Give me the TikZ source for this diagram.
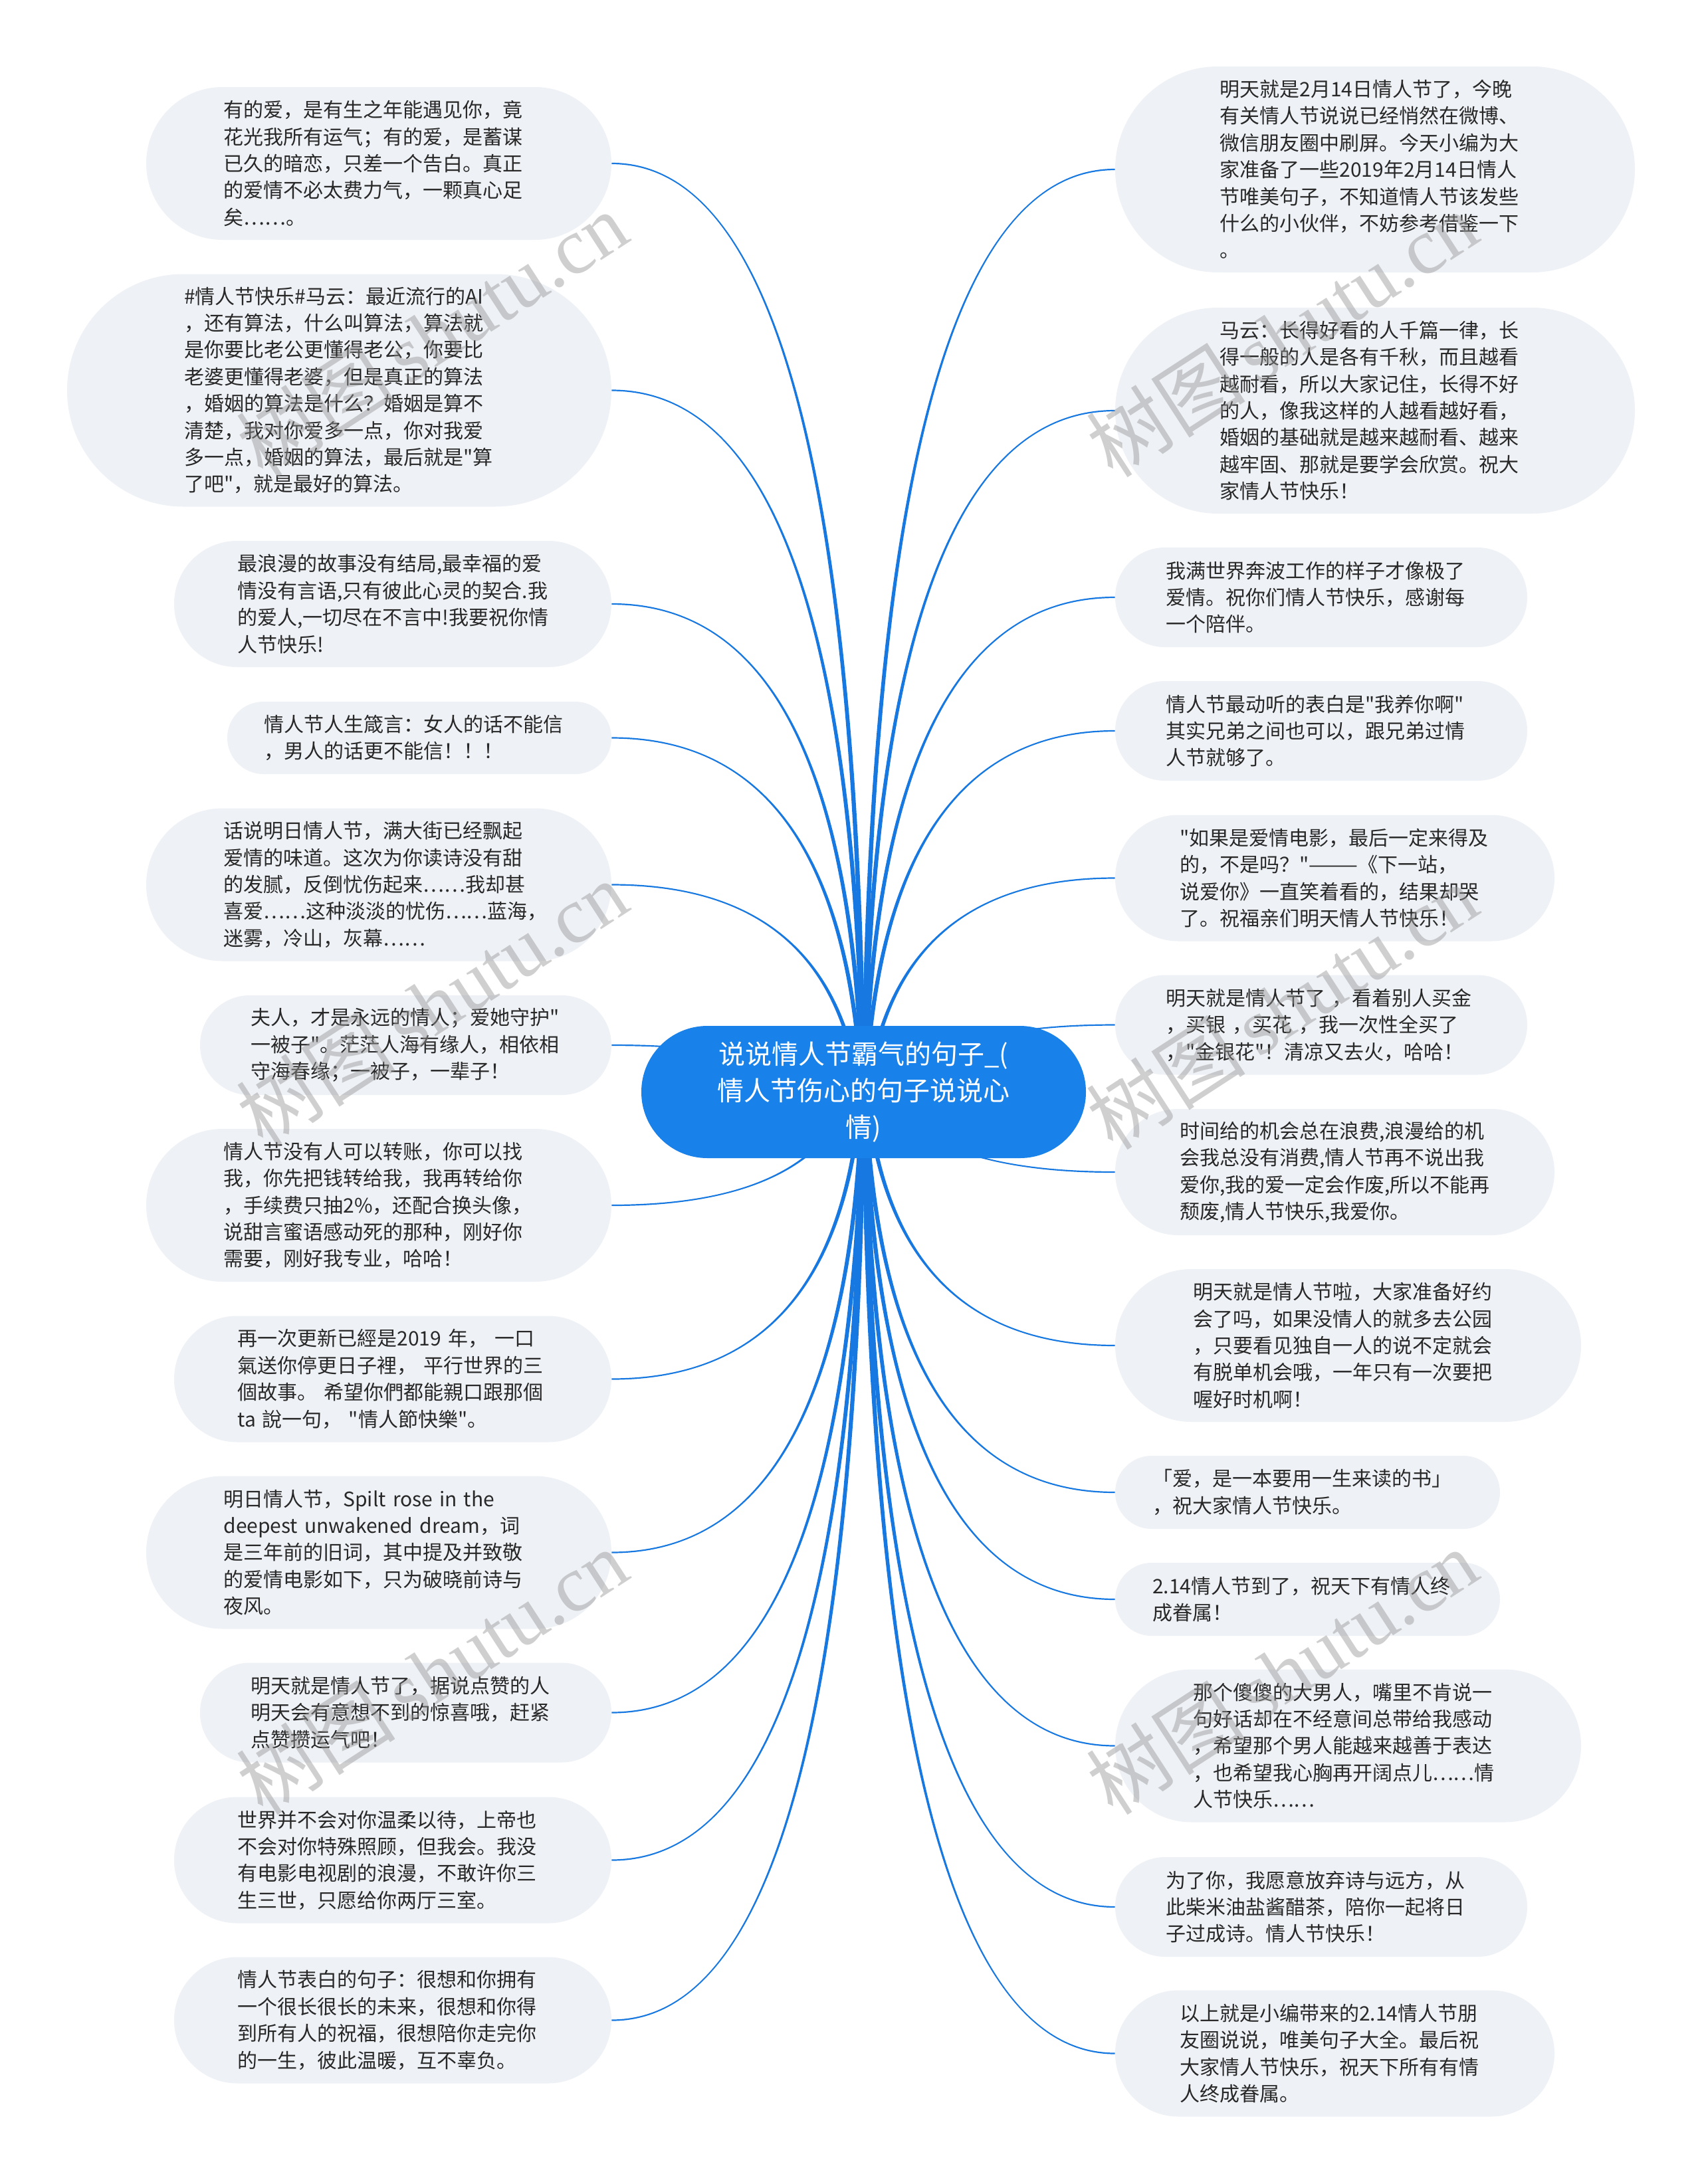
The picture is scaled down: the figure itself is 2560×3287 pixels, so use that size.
\documentclass[tikz,border=0pt]{standalone}
\usepackage{fontspec}
\setmainfont{Noto Sans CJK SC}[Ligatures=TeXOff]
\newfontfamily\wmlatin{Liberation Serif}
\usetikzlibrary{calc,backgrounds}
\definecolor{rootblue}{RGB}{24,129,234}
\definecolor{linkblue}{RGB}{22,120,224}
\definecolor{leaffill}{RGB}{238,241,245}
\definecolor{txt}{RGB}{40,40,40}
\definecolor{wmgray}{RGB}{150,150,150}
\def\wa{3.5}
\def\wb{1.1}
% tapered connector: #1 root anchor, #2 leaf anchor, #3 sign x, #4 sign y
\newcommand{\mmlink}[4]{%
  \path (#1) coordinate (q0) (#2) coordinate (q3);
  \path ($(q0)!0.6667!(q0 |- q3)$) coordinate (q1)
        ($(q3)!0.6667!(q0 |- q3)$) coordinate (q2);
  \fill[linkblue] ($(q0)+({-(#3)*\wa},0)$)
     .. controls ($(q1)+({-(#3)*\wa},0)$) and ($(q2)+(0,{(#4)*\wb})$) .. ($(q3)+(0,{(#4)*\wb})$)
     -- ($(q3)+(0,{-(#4)*\wb})$)
     .. controls ($(q2)+(0,{-(#4)*\wb})$) and ($(q1)+({(#3)*\wa},0)$) .. ($(q0)+({(#3)*\wa},0)$)
     -- cycle;}
\begin{document}
\begin{tikzpicture}[x=0.5pt,y=-0.5pt,
  leaf/.style={rectangle, fill=leaffill, text=txt, align=left, text width=233.5pt, inner sep=0pt,
    font=\fontsize{15pt}{20.2pt}\selectfont},
  pill/.style 2 args={minimum width=#1*0.5pt, minimum height=#2*0.5pt, rounded corners=#2*0.25pt-0.05pt},
  rootbox/.style={rectangle, fill=rootblue, text=white, align=center, inner sep=0pt,
    font=\fontsize{20pt}{27.3pt}\selectfont},
  wm/.style={rotate=33, text=wmgray, opacity=0.45, inner sep=0pt,
    font=\fontsize{60pt}{60pt}\selectfont}]
\useasboundingbox (0,0) rectangle (2560,3287);

% root
\node[rootbox, pill={669}{199}] (root) at (1299.5,1643.5)
  {说说情人节霸气的句子\_(\\情人节伤心的句子说说心\\情)};

% left leaves
\node[leaf, pill={700}{230}] (L1) at (570,246)
  {有的爱，是有生之年能遇见你，竟\\花光我所有运气；有的爱，是蓄谋\\已久的暗恋，只差一个告白。真正\\的爱情不必太费力气，一颗真心足\\矣……。};
\node[leaf, pill={819}{350}] (L2) at (510.5,587.5)
  {\#情人节快乐\#马云：最近流行的AI\\，还有算法，什么叫算法，算法就\\是你要比老公更懂得老公，你要比\\老婆更懂得老婆，但是真正的算法\\，婚姻的算法是什么？婚姻是算不\\清楚，我对你爱多一点，你对我爱\\多一点，婚姻的算法，最后就是"算\\了吧"，就是最好的算法。};
\node[leaf, pill={658}{190}] (L3) at (591,909)
  {最浪漫的故事没有结局,最幸福的爱\\情没有言语,只有彼此心灵的契合.我\\的爱人,一切尽在不言中!我要祝你情\\人节快乐!};
\node[leaf, pill={578}{109}] (L4) at (631,1110.5)
  {情人节人生箴言：女人的话不能信\\，男人的话更不能信！！！};
\node[leaf, pill={700}{230}] (L5) at (570,1331.5)
  {话说明日情人节，满大街已经飘起\\爱情的味道。这次为你读诗没有甜\\的发腻，反倒忧伤起来……我却甚\\喜爱……这种淡淡的忧伤……蓝海，\\迷雾，冷山，灰幕……};
\node[leaf, pill={619}{150}] (L6) at (610.5,1573)
  {夫人，才是永远的情人；爱她守护"\\一被子"。茫茫人海有缘人，相依相\\守海春缘；一被子，一辈子！};
\node[leaf, pill={700}{230}] (L7) at (570,1814)
  {情人节没有人可以转账，你可以找\\我，你先把钱转给我，我再转给你\\，手续费只抽2\%，还配合换头像，\\说甜言蜜语感动死的那种，刚好你\\需要，刚好我专业，哈哈！};
\node[leaf, pill={658}{190}] (L8) at (591,2075.5)
  {再一次更新已經是2019 年， 一口\\氣送你停更日子裡， 平行世界的三\\個故事。 希望你們都能親口跟那個\\ta 說一句， "情人節快樂"。};
\node[leaf, pill={700}{230}] (L9) at (570,2336.5)
  {明日情人节，Spilt rose in the\\deepest unwakened dream，词\\是三年前的旧词，其中提及并致敬\\的爱情电影如下，只为破晓前诗与\\夜风。};
\node[leaf, pill={619}{150}] (L10) at (610.5,2577.5)
  {明天就是情人节了，据说点赞的人\\明天会有意想不到的惊喜哦，赶紧\\点赞攒运气吧！};
\node[leaf, pill={658}{190}] (L11) at (591,2799.5)
  {世界并不会对你温柔以待，上帝也\\不会对你特殊照顾，但我会。我没\\有电影电视剧的浪漫，不敢许你三\\生三世，只愿给你两厅三室。};
\node[leaf, pill={658}{190}] (L12) at (591,3040.5)
  {情人节表白的句子：很想和你拥有\\一个很长很长的未来，很想和你得\\到所有人的祝福，很想陪你走完你\\的一生，彼此温暖，互不辜负。};

% right leaves
\node[leaf, pill={782}{310}] (R1) at (2069,255)
  {明天就是2月14日情人节了，今晚\\有关情人节说说已经悄然在微博、\\微信朋友圈中刷屏。今天小编为大\\家准备了一些2019年2月14日情人\\节唯美句子，不知道情人节该发些\\什么的小伙伴，不妨参考借鉴一下\\。};
\node[leaf, pill={782}{310}] (R2) at (2069,618)
  {马云：长得好看的人千篇一律，长\\得一般的人是各有千秋，而且越看\\越耐看，所以大家记住，长得不好\\的人，像我这样的人越看越好看，\\婚姻的基础就是越来越耐看、越来\\越牢固、那就是要学会欣赏。祝大\\家情人节快乐！};
\node[leaf, pill={620}{150}] (R3) at (1988,899)
  {我满世界奔波工作的样子才像极了\\爱情。祝你们情人节快乐，感谢每\\一个陪伴。};
\node[leaf, pill={620}{150}] (R4) at (1988,1100)
  {情人节最动听的表白是"我养你啊"\\其实兄弟之间也可以，跟兄弟过情\\人节就够了。};
\node[leaf, pill={661}{190}] (R5) at (2008.5,1321.5)
  {"如果是爱情电影，最后一定来得及\\的，不是吗？"———《下一站，\\说爱你》一直笑着看的，结果却哭\\了。祝福亲们明天情人节快乐！};
\node[leaf, pill={620}{150}] (R6) at (1988,1542.5)
  {明天就是情人节了 ，看着别人买金\\ ，买银 ，买花 ，我一次性全买了\\ ，"金银花"！清凉又去火，哈哈！};
\node[leaf, pill={661}{190}] (R7) at (2008.5,1764)
  {时间给的机会总在浪费,浪漫给的机\\会我总没有消费,情人节再不说出我\\爱你,我的爱一定会作废,所以不能再\\颓废,情人节快乐,我爱你。};
\node[leaf, pill={701}{230}] (R8) at (2028.5,2025)
  {明天就是情人节啦，大家准备好约\\会了吗，如果没情人的就多去公园\\，只要看见独自一人的说不定就会\\有脱单机会哦，一年只有一次要把\\喔好时机啊！};
\node[leaf, pill={579}{110}] (R9) at (1967.5,2246)
  {「爱，是一本要用一生来读的书」\\，祝大家情人节快乐。};
\node[leaf, pill={579}{110}] (R10) at (1967.5,2407)
  {2.14情人节到了，祝天下有情人终\\成眷属！};
\node[leaf, pill={701}{230}] (R11) at (2028.5,2627.5)
  {那个傻傻的大男人，嘴里不肯说一\\句好话却在不经意间总带给我感动\\，希望那个男人能越来越善于表达\\，也希望我心胸再开阔点儿……情\\人节快乐……};
\node[leaf, pill={620}{150}] (R12) at (1988,2870)
  {为了你，我愿意放弃诗与远方，从\\此柴米油盐酱醋茶，陪你一起将日\\子过成诗。情人节快乐！};
\node[leaf, pill={661}{190}] (R13) at (2008.5,3090.5)
  {以上就是小编带来的2.14情人节朋\\友圈说说，唯美句子大全。最后祝\\大家情人节快乐，祝天下所有有情\\人终成眷属。};

% connectors
\begin{pgfonlayer}{background}
\fill[white] (0,0) rectangle (2560,3287);
\foreach \n in {L1,L2,L3,L4,L5,L6}{\mmlink{root.south}{\n.east}{-1}{-1}}
\foreach \n in {L7,L8,L9,L10,L11,L12}{\mmlink{root.north}{\n.east}{-1}{1}}
\foreach \n in {R1,R2,R3,R4,R5,R6}{\mmlink{root.south}{\n.west}{1}{-1}}
\foreach \n in {R7,R8,R9,R10,R11,R12,R13}{\mmlink{root.north}{\n.west}{1}{1}}
\end{pgfonlayer}

% watermarks
\node[wm] (wm1) at (650,503) {树图\,{\wmlatin shutu.cn}};
\node[wm] (wm2) at (1929,503) {树图\,{\wmlatin shutu.cn}};
\node[wm] (wm3) at (650,1510) {树图\,{\wmlatin shutu.cn}};
\node[wm] (wm4) at (1929,1515) {树图\,{\wmlatin shutu.cn}};
\node[wm] (wm5) at (650,2516) {树图\,{\wmlatin shutu.cn}};
\node[wm] (wm6) at (1929,2516) {树图\,{\wmlatin shutu.cn}};
\end{tikzpicture}
\end{document}
